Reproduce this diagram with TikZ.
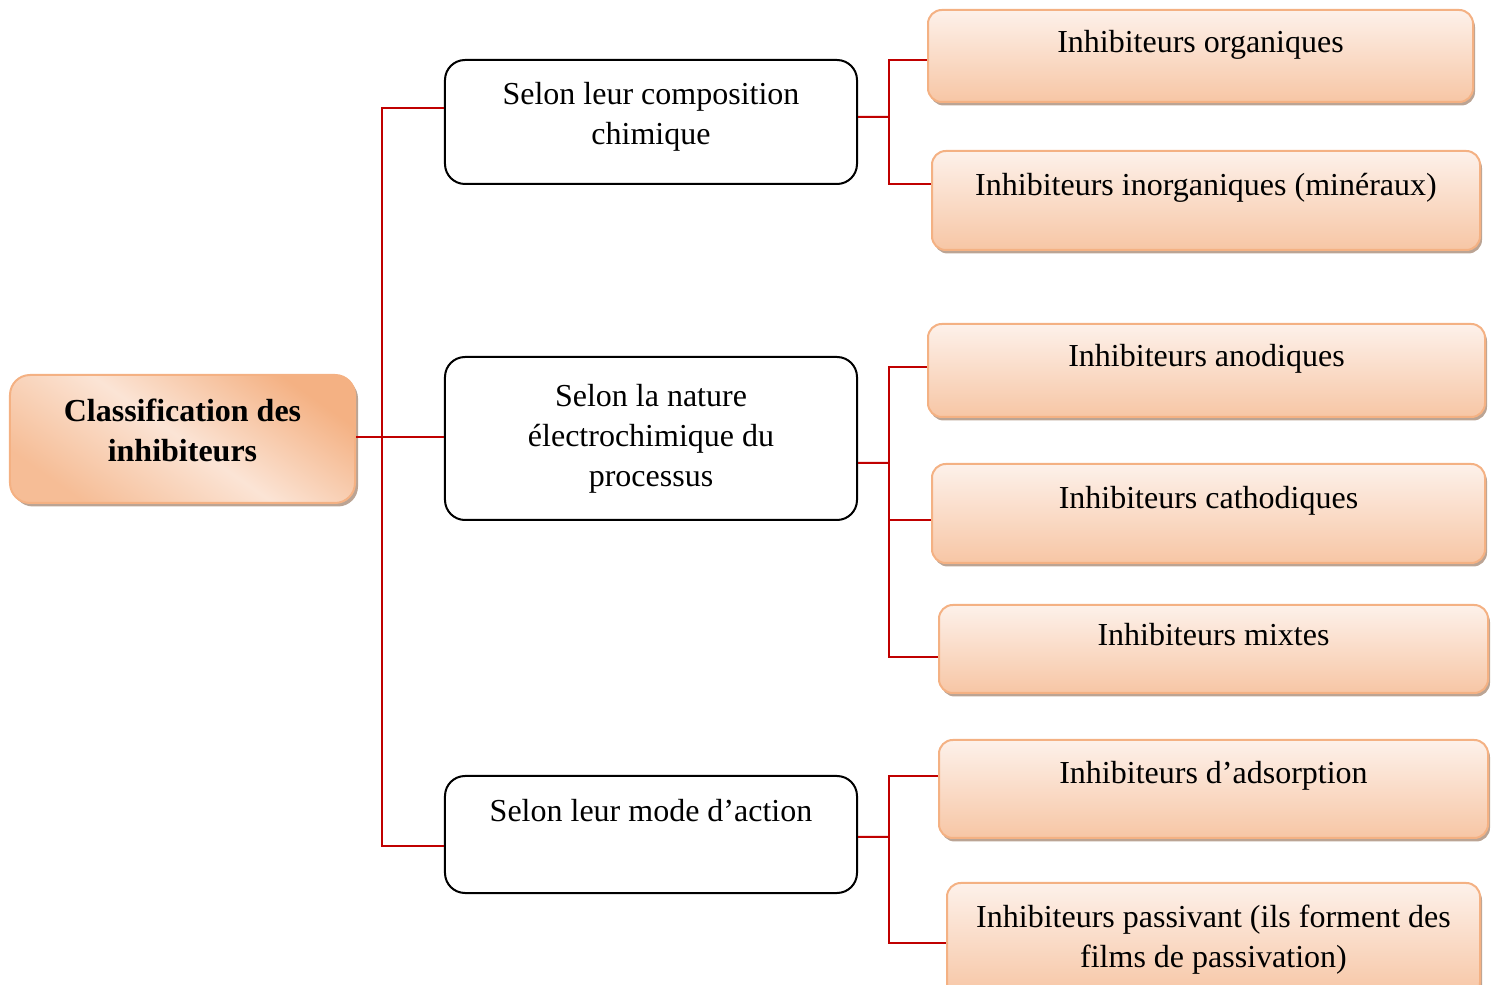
\documentclass[tikz,border=0pt]{standalone}
\usepackage{fontspec}
\setmainfont{Liberation Serif}
\usetikzlibrary{positioning, shadows, calc}
\definecolor{peach}{HTML}{F4B183}
\definecolor{peachlt}{HTML}{FDF1EA}
\definecolor{peachdk}{HTML}{F7C6A5}
\definecolor{branchred}{HTML}{C00000}
\definecolor{shadowc}{HTML}{B49A88}

\begin{document}
\begin{tikzpicture}[
  x=0.4pt, y=-0.4pt,
  font=\fontsize{12.8}{16}\selectfont,
  every node/.style={align=center},
  rootbox/.style={rectangle, rounded corners=8pt, draw=peach, line width=0.8pt,
                  top color=peach, bottom color=peach!85, middle color=peachlt!80!peach, shading angle=-35,
                  drop shadow={shadow xshift=1.2pt, shadow yshift=-1.4pt, fill=shadowc, opacity=0.9},
                  inner sep=2pt, font=\fontsize{12.8}{16}\selectfont\bfseries},
  midbox/.style={rectangle, rounded corners=8pt, draw=black, line width=0.8pt, fill=white,
                 minimum width=164.8pt, inner sep=2pt},
  leafbox/.style={rectangle, rounded corners=5.5pt, draw=peach, line width=0.8pt,
                  top color=peachlt, bottom color=peachdk,
                  drop shadow={shadow xshift=0.8pt, shadow yshift=-1.4pt, fill=shadowc, opacity=0.9},
                  inner sep=2pt},
  uptext/.style={text height=9pt, text depth=#1},
  uptext/.default=12pt,
  link/.style={draw=branchred, line width=0.8pt},
]
\useasboundingbox (0,0) rectangle (1496,985);

% ---------- root ----------
\node[rootbox, minimum width=138pt, minimum height=51.2pt, text depth=7.4pt] (root) at (182.5,439)
  {Classification des\\ inhibiteurs};

% ---------- middle level ----------
\node[midbox, minimum height=49.6pt, text depth=6.7pt] (comp) at (651,122) {Selon leur composition\\ chimique};
\node[midbox, minimum height=65.2pt] (nature) at (651,438.5) {Selon la nature\\ électrochimique du\\ processus};
\node[midbox, minimum height=46.8pt, uptext=19pt] (mode) at (651,834.5) {Selon leur mode d’action};

% ---------- leaves ----------
\node[leafbox, uptext, minimum width=218pt, minimum height=36.8pt] (org) at (1200.5,56) {Inhibiteurs organiques};
\node[leafbox, uptext=13pt, minimum width=219.2pt, minimum height=39.6pt] (inorg) at (1206,200.5) {Inhibiteurs inorganiques (minéraux)};
\node[leafbox, uptext, minimum width=222.8pt, minimum height=37.2pt] (anod) at (1206.5,370.5) {Inhibiteurs anodiques};
\node[leafbox, uptext=13pt, minimum width=221.2pt, minimum height=39.6pt] (cath) at (1208.5,513.5) {Inhibiteurs cathodiques};
\node[leafbox, uptext, minimum width=219.6pt, minimum height=35.2pt] (mixt) at (1213.5,649) {Inhibiteurs mixtes};
\node[leafbox, uptext=13pt, minimum width=219.6pt, minimum height=39.2pt] (adso) at (1213.5,789) {Inhibiteurs d’adsorption};
\node[leafbox, minimum width=213.2pt, minimum height=45.2pt] (pass) at (1213.5,939.5) {Inhibiteurs passivant (ils forment des\\ films de passivation)};

% ---------- connectors ----------
\coordinate (trunk) at (382,437);
\draw[link] ([yshift=0.8pt]root.east) -- ([yshift=0.6pt]nature.west);
\draw[link] ([yshift=5.6pt]comp.west) -| (trunk) |- ([yshift=-4.6pt]mode.west);

\coordinate (bus1) at (889,117);
\draw[link] ([yshift=2pt]comp.east) -- (bus1);
\draw[link] ([yshift=-1.6pt]org.west) -| (bus1) |- ([yshift=6.4pt]inorg.west);

\coordinate (bus2) at (889,463);
\draw[link] ([yshift=-9.8pt]nature.east) -- (bus2);
\draw[link] ([yshift=1.4pt]anod.west) -| (bus2) |- ([yshift=-3.2pt]mixt.west);
\draw[link] ([yshift=-2.6pt]cath.west) -| (bus2);

\coordinate (bus3) at (889,837);
\draw[link] ([yshift=-1pt]mode.east) -- (bus3);
\draw[link] ([yshift=5.2pt]adso.west) -| (bus3) |- ([yshift=-1.4pt]pass.west);
\end{tikzpicture}
\end{document}
